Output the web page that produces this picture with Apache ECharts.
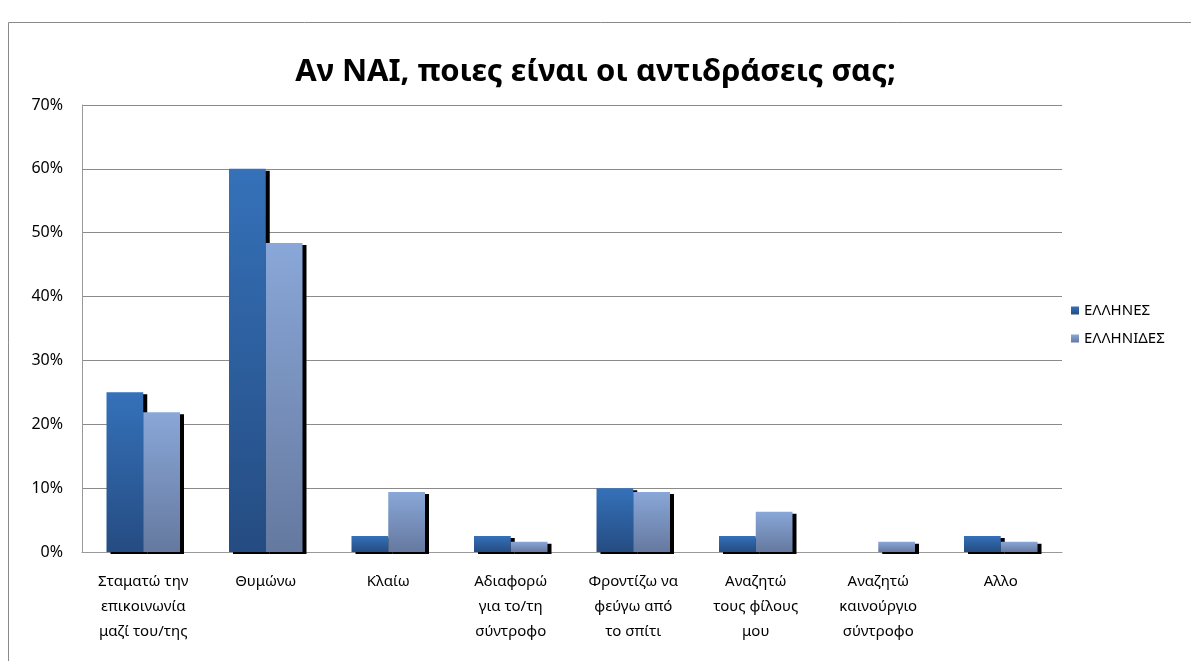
<!DOCTYPE html>
<html>
<head>
<meta charset="utf-8">
<script src="https://cdn.jsdelivr.net/npm/echarts@6/dist/echarts.min.js"></script>
<style>
  html, body { margin: 0; padding: 0; background: #fff; }
  #chart { width: 1191px; height: 661px; }
</style>
</head>
<body>
<div id="chart"></div>
<script>
// categories and values (percent)
var categories = [
  'Σταματώ την\nεπικοινωνία\nμαζί του/της',
  'Θυμώνω',
  'Κλαίω',
  'Αδιαφορώ\nγια το/τη\nσύντροφο',
  'Φροντίζω να\nφεύγω από\nτο σπίτι',
  'Αναζητώ\nτους φίλους\nμου',
  'Αναζητώ\nκαινούργιο\nσύντροφο',
  'Αλλο'
];
var seriesNames = ['ΕΛΛΗΝΕΣ', 'ΕΛΛΗΝΙΔΕΣ'];
var men = [25, 60, 2.5, 2.5, 10, 2.5, 0, 2.5];
var women = [21.9, 48.4, 9.4, 1.6, 9.4, 6.3, 1.6, 1.6];
var yTicks = [0, 10, 70];  // min, interval, max

var myChart = echarts.init(document.getElementById('chart'));

function grad(top, bottom) {
  return new echarts.graphic.LinearGradient(0, 0, 0, 1, [
    { offset: 0, color: top },
    { offset: 1, color: bottom }
  ]);
}

var font = '"Noto Sans", "DejaVu Sans", sans-serif';

var option = {
  backgroundColor: '#fff',
  textStyle: { fontFamily: font },
  title: {
    text: 'Αν ΝΑΙ, ποιες είναι οι αντιδράσεις σας;',
    left: 'center',
    top: 57,
    padding: [0, 0, 0, 32],
    textStyle: {
      fontFamily: font,
      fontSize: 31,
      fontWeight: 'bold',
      color: '#000'
    }
  },
  graphic: [
    {
      type: 'rect',
      shape: { x: 8.5, y: 22.5, width: 1300, height: 800 },
      style: { fill: 'none', stroke: '#8a8a8a', lineWidth: 1 },
      silent: true
    }
  ],
  legend: {
    orient: 'vertical',
    left: 1066,
    top: 298,
    icon: 'rect',
    itemWidth: 8,
    itemHeight: 8,
    itemGap: 13,
    data: seriesNames,
    textStyle: { fontSize: 15, color: '#000', fontFamily: font }
  },
  grid: {
    left: 82,
    right: 129,
    top: 105,
    bottom: 109
  },
  xAxis: {
    type: 'category',
    data: categories,
    axisLine: { lineStyle: { color: '#999', width: 1 } },
    axisTick: { show: false },
    axisLabel: {
      interval: 0,
      margin: 17,
      fontSize: 15,
      lineHeight: 25,
      color: '#000',
      fontFamily: font
    }
  },
  yAxis: {
    type: 'value',
    min: yTicks[0],
    max: yTicks[2],
    interval: yTicks[1],
    axisLine: { show: true, lineStyle: { color: '#999', width: 1 } },
    axisTick: { show: false },
    splitLine: { lineStyle: { color: '#8a8a8a', width: 1 } },
    axisLabel: {
      formatter: '{value}%',
      fontSize: 16,
      color: '#000',
      margin: 19,
      fontFamily: font
    }
  },
  series: [
    {
      name: seriesNames[0],
      type: 'bar',
      data: men,
      barGap: '0%',
      barCategoryGap: '40%',
      itemStyle: {
        color: grad('#3571b9', '#254c82'),
        shadowColor: '#000',
        shadowOffsetX: 4,
        shadowOffsetY: 2,
        shadowBlur: 0
      }
    },
    {
      name: seriesNames[1],
      type: 'bar',
      data: women,
      itemStyle: {
        color: grad('#89a7d8', '#65799f'),
        shadowColor: '#000',
        shadowOffsetX: 4,
        shadowOffsetY: 2,
        shadowBlur: 0
      }
    }
  ]
};

myChart.setOption(option);
</script>
</body>
</html>
